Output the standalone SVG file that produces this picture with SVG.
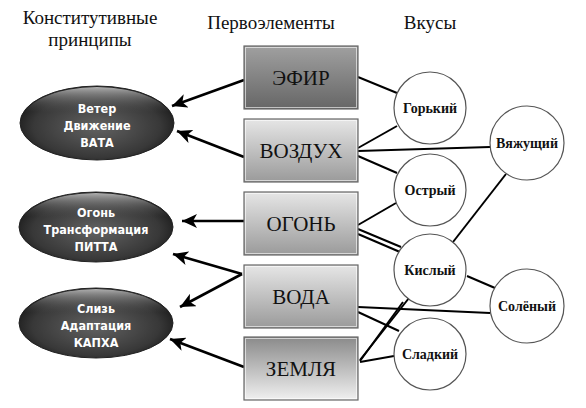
<svg xmlns="http://www.w3.org/2000/svg" width="586" height="408" viewBox="0 0 586 408">
<defs>
<linearGradient id="gDark" x1="0" y1="0" x2="0" y2="1">
<stop offset="0" stop-color="#a0a0a0"/><stop offset="1" stop-color="#666"/>
</linearGradient>
<linearGradient id="gLight" x1="0" y1="0" x2="0" y2="1">
<stop offset="0" stop-color="#e6e6e6"/><stop offset="1" stop-color="#9a9a9a"/>
</linearGradient>
<linearGradient id="gEarth" x1="0" y1="0" x2="0" y2="1">
<stop offset="0" stop-color="#8a8a8a"/><stop offset="1" stop-color="#f0f0f0"/>
</linearGradient>
<radialGradient id="gOval" cx="0.5" cy="0.55" r="0.55">
<stop offset="0" stop-color="#626262"/><stop offset="0.75" stop-color="#383838"/><stop offset="1" stop-color="#1a1a1a"/>
</radialGradient>
<linearGradient id="gRim" x1="0" y1="0" x2="0" y2="1">
<stop offset="0" stop-color="#b0b0b0"/><stop offset="0.35" stop-color="#555" stop-opacity="0"/><stop offset="1" stop-color="#000" stop-opacity="0"/>
</linearGradient>
<marker id="ah" markerUnits="userSpaceOnUse" markerWidth="16" markerHeight="14" refX="15" refY="7" orient="auto">
<path d="M0,0 L15,7 L0,14 L4,7 Z" fill="#000"/>
</marker>
</defs>
<style>
.hdr{font-family:"Liberation Serif","Times New Roman",serif;font-size:19px;fill:#111;text-anchor:middle}
.box{stroke:#666;stroke-width:1.2}
.inner{fill:none;stroke:#fff;stroke-opacity:0.6;stroke-width:1}
.btxt{font-family:"Liberation Serif","Times New Roman",serif;font-size:21px;fill:#111;text-anchor:middle}
.circ{fill:#fff;stroke:#555;stroke-width:1.2}
.ctxt{font-family:"Liberation Serif","Times New Roman",serif;font-size:14px;font-weight:bold;fill:#111;text-anchor:middle}
.oval{fill:url(#gOval);stroke:#222;stroke-width:1}
.rim{fill:url(#gRim)}
.otxt{font-family:"DejaVu Sans Condensed","DejaVu Sans",sans-serif;font-size:12.5px;font-weight:bold;fill:#fff;text-anchor:middle}
.arr{stroke:#000;stroke-width:2.6;fill:none;marker-end:url(#ah)}
.ln{stroke:#000;stroke-width:2;fill:none}
</style>
<rect width="586" height="408" fill="#fff"/>
<g id="headers">
<text class="hdr" x="90" y="24">Конститутивные</text>
<text class="hdr" x="90" y="46">принципы</text>
<text class="hdr" x="271" y="29">Первоэлементы</text>
<text class="hdr" x="430" y="29">Вкусы</text>
</g>
<g id="connectors">
<line class="arr" x1="244" y1="80" x2="172" y2="106"/>
<line class="arr" x1="244" y1="157" x2="177" y2="131"/>
<line class="arr" x1="244" y1="221" x2="182" y2="221"/>
<line class="arr" x1="242" y1="274" x2="173" y2="254"/>
<line class="arr" x1="242" y1="274" x2="180" y2="307"/>
<line class="arr" x1="244" y1="367" x2="170" y2="339"/>
<line class="ln" x1="358" y1="77" x2="397" y2="93"/>
<line class="ln" x1="358" y1="148" x2="397" y2="126"/>
<line class="ln" x1="358" y1="151" x2="490" y2="147" stroke-width="2.5"/>
<line class="ln" x1="358" y1="156" x2="397" y2="173"/>
<line class="ln" x1="358" y1="225" x2="396" y2="203"/>
<line class="ln" x1="358" y1="229" x2="401" y2="247"/>
<line class="ln" x1="358" y1="234" x2="400" y2="252"/>
<line class="ln" x1="358" y1="307" x2="490" y2="313"/>
<line class="ln" x1="358" y1="312" x2="399" y2="331"/>
<line class="ln" x1="360" y1="360" x2="409" y2="298"/>
<line class="ln" x1="360" y1="361" x2="403" y2="302"/>
<line class="ln" x1="360" y1="362" x2="394" y2="356"/>
<line class="ln" x1="453" y1="242" x2="506" y2="174"/>
<line class="ln" x1="467" y1="276" x2="495" y2="288"/>
</g>
<g id="vata">
<ellipse class="oval" cx="97" cy="123" rx="77" ry="37"/>
<ellipse class="rim" cx="97" cy="123" rx="76" ry="36"/>
<text class="otxt" x="97" y="113">Ветер</text>
<text class="otxt" x="97" y="130">Движение</text>
<text class="otxt" x="97" y="147">ВАТА</text>
</g>
<g id="pitta">
<ellipse class="oval" cx="96" cy="227" rx="77" ry="35"/>
<ellipse class="rim" cx="96" cy="227" rx="76" ry="34"/>
<text class="otxt" x="96" y="217">Огонь</text>
<text class="otxt" x="96" y="234">Трансформация</text>
<text class="otxt" x="96" y="251">ПИТТА</text>
</g>
<g id="kapha">
<ellipse class="oval" cx="96" cy="323" rx="77" ry="35"/>
<ellipse class="rim" cx="96" cy="323" rx="76" ry="34"/>
<text class="otxt" x="96" y="313">Слизь</text>
<text class="otxt" x="96" y="330">Адаптация</text>
<text class="otxt" x="96" y="347">КАПХА</text>
</g>
<g id="efir">
<rect class="box" x="244" y="46" width="114" height="63" fill="url(#gDark)"/>
<rect class="inner" x="245.5" y="47.5" width="111" height="60"/>
<text class="btxt" x="301" y="85">ЭФИР</text>
</g>
<g id="vozdukh">
<rect class="box" x="244" y="119" width="114" height="63" fill="url(#gLight)"/>
<rect class="inner" x="245.5" y="120.5" width="111" height="60"/>
<text class="btxt" x="301" y="158">ВОЗДУХ</text>
</g>
<g id="ogon">
<rect class="box" x="244" y="192" width="114" height="63" fill="url(#gLight)"/>
<rect class="inner" x="245.5" y="193.5" width="111" height="60"/>
<text class="btxt" x="301" y="231">ОГОНЬ</text>
</g>
<g id="voda">
<rect class="box" x="244" y="265" width="114" height="63" fill="url(#gLight)"/>
<rect class="inner" x="245.5" y="266.5" width="111" height="60"/>
<text class="btxt" x="301" y="304">ВОДА</text>
</g>
<g id="zemlya">
<rect class="box" x="244" y="337" width="114" height="63" fill="url(#gEarth)"/>
<rect class="inner" x="245.5" y="338.5" width="111" height="60"/>
<text class="btxt" x="301" y="376">ЗЕМЛЯ</text>
</g>
<g id="gorkiy">
<circle class="circ" cx="430" cy="108" r="36"/>
<text class="ctxt" x="430" y="113">Горький</text>
</g>
<g id="ostryy">
<circle class="circ" cx="430" cy="190" r="36"/>
<text class="ctxt" x="430" y="195">Острый</text>
</g>
<g id="kislyy">
<circle class="circ" cx="430" cy="270" r="36"/>
<text class="ctxt" x="430" y="275">Кислый</text>
</g>
<g id="sladkiy">
<circle class="circ" cx="430" cy="354" r="36"/>
<text class="ctxt" x="430" y="359">Сладкий</text>
</g>
<g id="vyazhushchiy">
<circle class="circ" cx="527" cy="143" r="37"/>
<text class="ctxt" x="527" y="148">Вяжущий</text>
</g>
<g id="solenyy">
<circle class="circ" cx="527" cy="306" r="37"/>
<text class="ctxt" x="527" y="311">Солёный</text>
</g>
</svg>
